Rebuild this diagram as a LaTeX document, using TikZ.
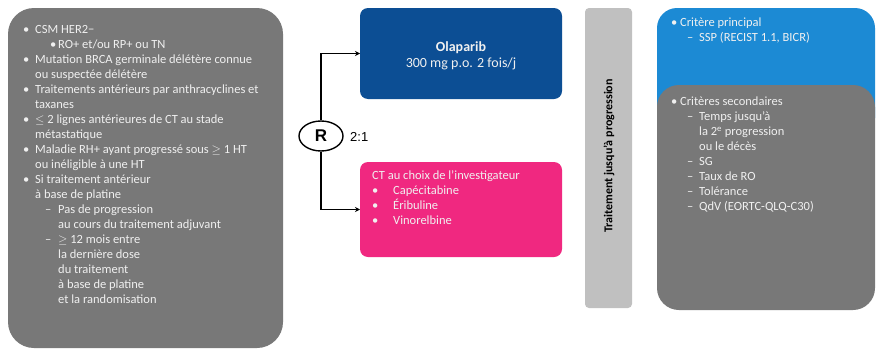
\documentclass[tikz,border=0pt]{standalone}
\usepackage{fontspec}
\setmainfont{Carlito}
\newfontfamily\arialf{Liberation Sans}
\usetikzlibrary{arrows.meta,shapes.geometric}
\definecolor{boxgray}{RGB}{120,120,120}
\definecolor{olablue}{RGB}{12,78,148}
\definecolor{ctpink}{RGB}{240,40,128}
\definecolor{critblue}{RGB}{28,138,212}
\definecolor{bargray}{RGB}{192,192,192}
\definecolor{txtlight}{RGB}{240,240,240}
\newcommand{\bl}[1]{\makebox[#1][l]{\textbullet}}
\newcommand{\dl}[1]{\makebox[#1][l]{–}}
\tikzset{
  panel/.style={anchor=north west, inner sep=0pt, outer sep=0pt},
  bodytext/.style={anchor=north west, inner sep=0pt, align=left, text=txtlight,
    font=\fontsize{12.5}{15}\selectfont},
  link/.style={draw=black, line width=1.4pt, -{Stealth[length=5pt,width=5pt]}},
}
\begin{document}
\begin{tikzpicture}[x=1pt,y=-1pt]
\useasboundingbox (0,0) rectangle (880,356);
\fill[white] (0,0) rectangle (880,356);

% left eligibility panel
\node[panel, fill=boxgray, rounded corners=26pt, minimum width=275pt, minimum height=340pt] (elig) at (8,8) {};
\node[bodytext] (eligtext) at (23,25) {%
\bl{12pt}CSM HER2−\\
\hspace*{27pt}\bl{8pt}RO+ et/ou RP+ ou TN\\
\bl{12pt}Mutation BRCA germinale délétère connue\\
\hspace*{12pt}ou suspectée délétère\\
\bl{12pt}Traitements antérieurs par anthracyclines et\\
\hspace*{12pt}taxanes\\
\bl{12pt}$\leq$ 2 lignes antérieures de CT au stade\\
\hspace*{12pt}métastatique\\
\bl{12pt}Maladie RH+ ayant progressé sous $\geq$ 1 HT\\
\hspace*{12pt}ou inéligible à une HT\\
\bl{12pt}Si traitement antérieur\\
\hspace*{12pt}à base de platine\\
\hspace*{22pt}\dl{13pt}Pas de progression\\
\hspace*{35pt}au cours du traitement adjuvant\\
\hspace*{22pt}\dl{13pt}$\geq$ 12 mois entre\\
\hspace*{35pt}la dernière dose\\
\hspace*{35pt}du traitement\\
\hspace*{35pt}à base de platine\\
\hspace*{35pt}et la randomisation};

% treatment arms
\node[panel, fill=olablue, rounded corners=8pt, minimum width=202pt, minimum height=91pt] (ola) at (360,8) {};
\node[align=center, text=txtlight, font=\fontsize{14}{16}\selectfont, inner sep=0pt] (olatext) at (461,56) {\textbf{Olaparib}\\300 mg p.o. 2 fois/j};

\node[panel, fill=ctpink, rounded corners=8pt, minimum width=202pt, minimum height=95pt] (ct) at (360,162) {};
\node[bodytext] (cttext) at (372,170) {%
CT au choix de l'investigateur\\
\bl{21pt}Capécitabine\\
\bl{21pt}Éribuline\\
\bl{21pt}Vinorelbine};

% randomisation
\node[ellipse, draw=black, line width=1.4pt, fill=white, minimum width=44pt, minimum height=30pt, inner sep=0pt, font=\arialf\bfseries\fontsize{17}{17}\selectfont] (R) at (321,136) {R};
\node[anchor=west, inner sep=0pt, font=\arialf\fontsize{13}{13}\selectfont] (ratio) at (350,137) {2:1};
\draw[link] (R.north) |- (ola.west);
\draw[link] (R.south) |- (ct.west);

% treatment until progression bar
\node[panel, fill=bargray, rounded corners=4pt, minimum width=47pt, minimum height=300pt] (bar) at (585,8) {};
\node[rotate=90, inner sep=0pt, font=\bfseries\fontsize{12}{12}\selectfont] (bartext) at (609,156) {Traitement jusqu'à progression};

% endpoints
\node[panel, fill=critblue, rounded corners=20pt, minimum width=218pt, minimum height=130pt] (prim) at (657,8) {};
\node[panel, fill=boxgray, rounded corners=22pt, minimum width=218pt, minimum height=225pt] (sec) at (657,85) {};
\node[bodytext] (primtext) at (671,18) {%
\bl{9pt}Critère principal\\
\hspace*{16pt}\dl{12pt}SSP (RECIST 1.1, BICR)};
\node[bodytext] (sectext) at (671,97) {%
\bl{9pt}Critères secondaires\\
\hspace*{16pt}\dl{12pt}Temps jusqu'à\\
\hspace*{28pt}la 2\textsuperscript{e} progression\\
\hspace*{28pt}ou le décès\\
\hspace*{16pt}\dl{12pt}SG\\
\hspace*{16pt}\dl{12pt}Taux de RO\\
\hspace*{16pt}\dl{12pt}Tolérance\\
\hspace*{16pt}\dl{12pt}QdV (EORTC-QLQ-C30)};
\end{tikzpicture}
\end{document}
